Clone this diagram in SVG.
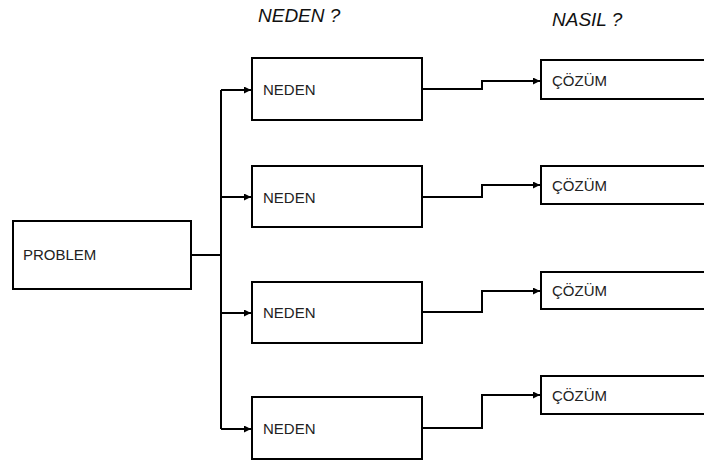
<svg xmlns="http://www.w3.org/2000/svg" width="704" height="463" viewBox="0 0 704 463">
<defs>
<style>
.box{fill:#fff;stroke:#000;stroke-width:2}
.lbl{font-family:"Liberation Sans",Arial,sans-serif;font-size:15px;fill:#222}
.hdr{font-family:"Liberation Sans",Arial,sans-serif;font-size:19px;font-style:italic;fill:#111}
.con{fill:none;stroke:#000;stroke-width:2}
</style>
<marker id="ah" viewBox="0 0 10 10" refX="10" refY="5" markerWidth="9" markerHeight="7" markerUnits="userSpaceOnUse" orient="auto">
<path d="M0,0 L10,5 L0,10 z" fill="#000"/>
</marker>
</defs>
<rect width="704" height="463" fill="#fff"/>
<text class="hdr" x="258" y="22">NEDEN ?</text>
<text class="hdr" x="552" y="26">NASIL ?</text>
<g id="connectors">
<path class="con" d="M191,255 H221"/>
<path class="con" d="M221,90 V429"/>
<path class="con" d="M221,90 H251" marker-end="url(#ah)"/>
<path class="con" d="M221,197 H251" marker-end="url(#ah)"/>
<path class="con" d="M221,313 H251" marker-end="url(#ah)"/>
<path class="con" d="M221,429 H251" marker-end="url(#ah)"/>
<path class="con" d="M422,89 H482 V81 H540" marker-end="url(#ah)"/>
<path class="con" d="M422,197 H482 V185 H540" marker-end="url(#ah)"/>
<path class="con" d="M422,312 H482 V291 H540" marker-end="url(#ah)"/>
<path class="con" d="M422,428 H482 V395 H540" marker-end="url(#ah)"/>
</g>
<g id="problem"><rect class="box" x="13" y="221" width="178" height="68"/><text class="lbl" x="23" y="260">PROBLEM</text></g>
<g id="neden1"><rect class="box" x="252" y="58" width="170" height="62"/><text class="lbl" x="263" y="95">NEDEN</text></g>
<g id="neden2"><rect class="box" x="252" y="166" width="170" height="61"/><text class="lbl" x="263" y="203">NEDEN</text></g>
<g id="neden3"><rect class="box" x="252" y="282" width="170" height="61"/><text class="lbl" x="263" y="318">NEDEN</text></g>
<g id="neden4"><rect class="box" x="252" y="397" width="170" height="62"/><text class="lbl" x="263" y="434">NEDEN</text></g>
<g id="cozum1"><rect class="box" x="541" y="60" width="170" height="39"/><text class="lbl" x="552" y="86">ÇÖZÜM</text></g>
<g id="cozum2"><rect class="box" x="541" y="166" width="170" height="38"/><text class="lbl" x="552" y="191">ÇÖZÜM</text></g>
<g id="cozum3"><rect class="box" x="541" y="272" width="170" height="37"/><text class="lbl" x="552" y="296">ÇÖZÜM</text></g>
<g id="cozum4"><rect class="box" x="541" y="376" width="170" height="38"/><text class="lbl" x="552" y="401">ÇÖZÜM</text></g>
</svg>
